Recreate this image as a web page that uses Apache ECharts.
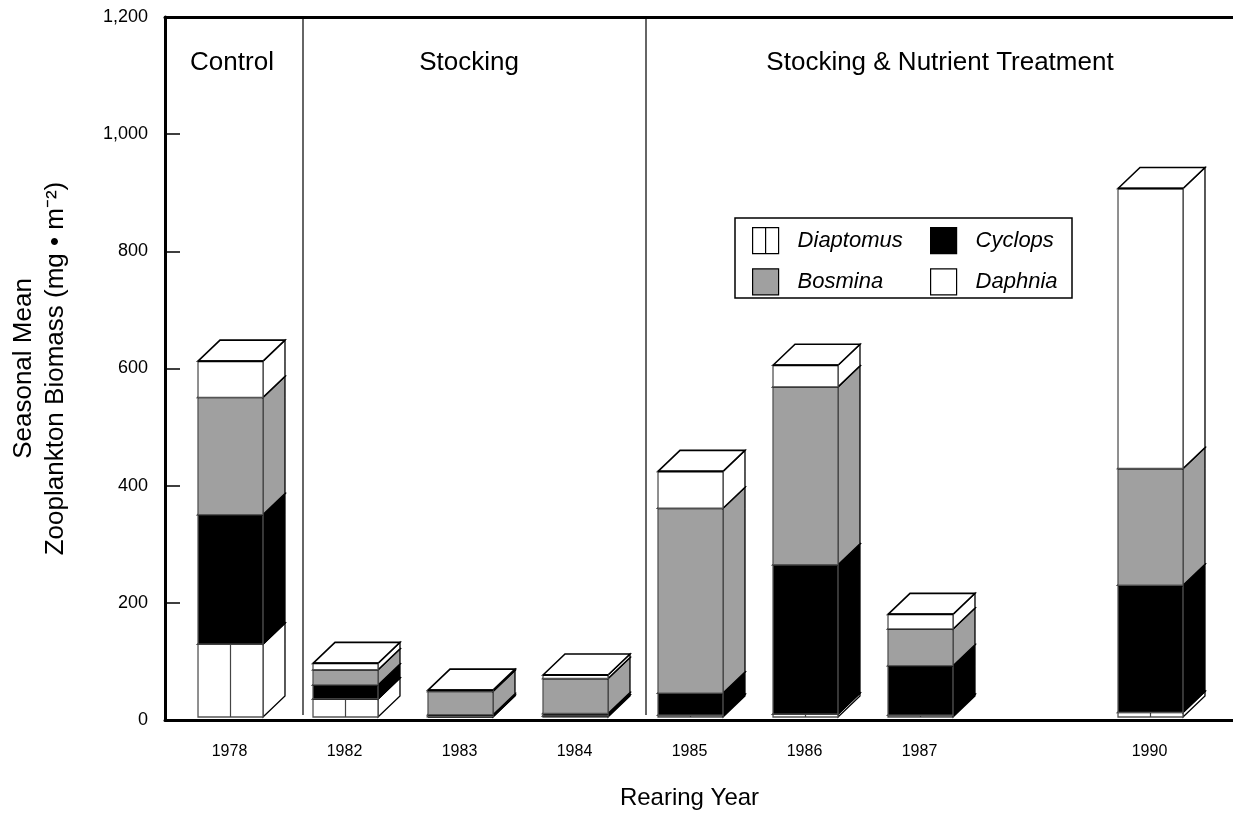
<!DOCTYPE html>
<html>
<head>
<meta charset="utf-8">
<script src="https://cdn.jsdelivr.net/npm/echarts@6/dist/echarts.min.js"></script>
<style>
  html, body { margin: 0; padding: 0; background: #fff; }
  #chart { width: 1233px; height: 815px; }
</style>
</head>
<body>
<div id="chart"></div>
<script>
// rearing years (empty slot = 1988/89, no data)
const years = ['1978', '1982', '1983', '1984', '1985', '1986', '1987', '', '1990'];

// seasonal mean biomass, mg/m2, stacked bottom -> top
const diaptomus = [125, 31, 1, 2, 3, 5, 3, null, 8];
const cyclops   = [222, 24, 3, 4, 38, 256, 85, null, 218];
const bosmina   = [201, 26, 40, 60, 317, 305, 63, null, 200];
const daphnia   = [62, 11, 2, 6, 63, 37, 25, null, 480];

const yTicks = [0, 200, 400, 600, 800, 1000, 1200];

const FONT = '"Liberation Sans", Arial, sans-serif';
const GRAY = '#a0a0a0';
const DX = 22, DY = 21; // depth of the 3d boxes

const stack = [
  { name: 'Diaptomus', values: diaptomus, color: '#ffffff', split: true },
  { name: 'Cyclops', values: cyclops, color: '#000000' },
  { name: 'Bosmina', values: bosmina, color: GRAY },
  { name: 'Daphnia', values: daphnia, color: '#ffffff' }
];

// cumulative bases
const bases = years.map(() => 0);
const seriesList = stack.map((s) => {
  const data = s.values.map((v, i) => {
    if (v == null) return [i, null, null];
    const item = [i, bases[i], v];
    bases[i] += v;
    return item;
  });
  return {
    type: 'custom',
    name: s.name,
    xAxisIndex: 0,
    yAxisIndex: 0,
    itemStyle: { color: s.color, borderColor: '#000' },
    encode: { x: 0, y: 2 },
    data: data,
    renderItem: (params, api) => {
      const base = api.value(1);
      const v = api.value(2);
      if (v == null || isNaN(v)) return;
      const p0 = api.coord([api.value(0), base]);
      const p1 = api.coord([api.value(0), base + v]);
      const w = api.size([1, 0])[0] * 0.565;
      const l = p0[0] - w / 2 + 1;
      const r = l + w;
      const yb = p0[1], yt = p1[1];
      const children = [
        {
          type: 'polygon',
          shape: { points: [[r, yb], [r + DX, yb - DY], [r + DX, yt - DY], [r, yt]] },
          style: { fill: s.color, stroke: '#000', lineWidth: 1.3 }
        },
        {
          type: 'polygon',
          shape: { points: [[l, yt], [l + DX, yt - DY], [r + DX, yt - DY], [r, yt]] },
          style: { fill: '#fff', stroke: '#000', lineWidth: 1.6 }
        },
        {
          type: 'rect',
          shape: { x: l, y: yt, width: w, height: yb - yt },
          style: { fill: s.color, stroke: '#555', lineWidth: 1.3 }
        }
      ];
      if (s.split) {
        children.push({
          type: 'line',
          shape: { x1: l + w / 2, y1: yt, x2: l + w / 2, y2: yb },
          style: { stroke: '#444', lineWidth: 1.2 }
        });
      }
      // top edge of the segment
      children.push({
        type: 'line',
        shape: { x1: l, y1: yt, x2: r, y2: yt },
        style: { stroke: '#000', lineWidth: 2 }
      });
      return { type: 'group', children: children };
    }
  };
});

const chart = echarts.init(document.getElementById('chart'));

// two legend columns inside one framed box
const legendCol = (left, items) => ({
  orient: 'vertical',
  left: left,
  top: 227,
  padding: 0,
  itemWidth: 26,
  itemHeight: 26,
  itemGap: 14,
  selectedMode: false,
  itemStyle: { borderColor: '#000', borderWidth: 1.2 },
  textStyle: {
    fontFamily: FONT,
    fontSize: 22,
    fontStyle: 'italic',
    color: '#000',
    padding: [0, 0, 0, 14]
  },
  data: items
});

const noteStyle = (text) => ({
  text: text,
  font: '26px ' + FONT,
  fill: '#000',
  textAlign: 'center',
  textVerticalAlign: 'middle'
});

const option = {
  animation: false,
  backgroundColor: '#fff',
  textStyle: { fontFamily: FONT },
  legend: [
    legendCol(752, [
      { name: 'Diaptomus', icon: 'path://M0,0L20,0L20,20L0,20Z M10,0L10,20' },
      { name: 'Bosmina', icon: 'rect' }
    ]),
    legendCol(930, [
      { name: 'Cyclops', icon: 'rect' },
      { name: 'Daphnia', icon: 'rect' }
    ])
  ],
  grid: [
    { left: 172, width: 1035, top: 17, bottom: 95 },
    { left: 165, right: 0, top: 17, bottom: 95 }
  ],
  xAxis: [
    {
      type: 'category',
      gridIndex: 0,
      data: years,
      axisLine: { show: false },
      axisTick: { show: false },
      axisLabel: { fontSize: 16, color: '#000', margin: 27, fontFamily: FONT },
      name: 'Rearing Year',
      nameLocation: 'middle',
      nameGap: 69,
      nameTextStyle: { fontSize: 24, color: '#000', fontFamily: FONT }
    },
    {
      type: 'value',
      gridIndex: 1,
      position: 'bottom',
      min: 0, max: 1,
      axisLine: { show: true, lineStyle: { color: '#000', width: 3 } },
      axisTick: { show: false },
      axisLabel: { show: false },
      splitLine: { show: false }
    },
    {
      type: 'value',
      gridIndex: 1,
      position: 'top',
      min: 0, max: 1,
      axisLine: { show: true, lineStyle: { color: '#000', width: 3 } },
      axisTick: { show: false },
      axisLabel: { show: false },
      splitLine: { show: false }
    }
  ],
  yAxis: [
    {
      type: 'value',
      gridIndex: 0,
      min: 0, max: 1200,
      show: false
    },
    {
      type: 'value',
      gridIndex: 1,
      min: yTicks[0],
      max: yTicks[yTicks.length - 1],
      interval: 200,
      axisLine: { show: true, lineStyle: { color: '#000', width: 3 } },
      axisTick: { show: true, inside: true, length: 15, lineStyle: { color: '#000', width: 1.5 } },
      splitLine: { show: false },
      axisLabel: {
        fontSize: 18,
        color: '#000',
        margin: 17,
        fontFamily: FONT,
        formatter: (v) => v.toLocaleString('en-US')
      },
      name: 'Seasonal Mean\nZooplankton Biomass (mg \u2022 m\u207B\u00B2)',
      nameLocation: 'middle',
      nameRotate: 90,
      nameGap: 93,
      nameTextStyle: {
        color: '#000',
        fontFamily: FONT,
        fontSize: 26,
        lineHeight: 32
      }
    }
  ],
  graphic: [
    { type: 'rect', shape: { x: 735, y: 218, width: 337, height: 80 }, style: { fill: '#fff', stroke: '#000', lineWidth: 1.5 } },
    { type: 'line', shape: { x1: 303, y1: 17, x2: 303, y2: 715 }, style: { stroke: '#333', lineWidth: 1.5 } },
    { type: 'line', shape: { x1: 646, y1: 17, x2: 646, y2: 715 }, style: { stroke: '#333', lineWidth: 1.5 } },
    { type: 'text', x: 232, y: 63, style: noteStyle('Control') },
    { type: 'text', x: 469, y: 63, style: noteStyle('Stocking') },
    { type: 'text', x: 940, y: 63, style: noteStyle('Stocking & Nutrient Treatment') }
  ],
  series: seriesList
};

chart.setOption(option);
</script>
</body>
</html>
